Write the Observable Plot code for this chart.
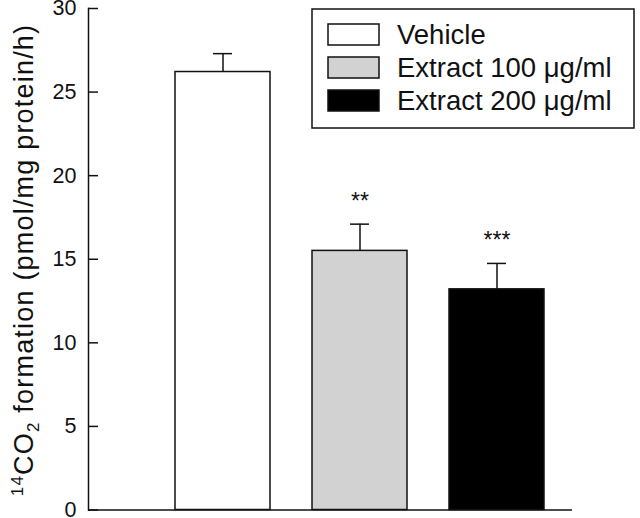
<!DOCTYPE html>
<html><head><meta charset="utf-8">
<script src="https://cdn.jsdelivr.net/npm/d3@7"></script>
<script src="https://cdn.jsdelivr.net/npm/@observablehq/plot@0.6"></script>
<style>body{margin:0;background:#fff}#chart{position:relative;width:640px;height:518px}</style>
</head><body><div id="chart"></div>
<script>
const groups = ["Vehicle", "Extract 100 \u03bcg/ml", "Extract 200 \u03bcg/ml"];
const means = [26.2, 15.5, 13.2];
const errors = [1.1, 1.6, 1.55];
const stars = ["", "**", "***"];
const fills = ["#ffffff", "#d2d2d2", "#000000"];
const yTicks = [0, 5, 10, 15, 20, 25, 30];

const data = groups.map((g, i) => ({group: g, mean: means[i], err: errors[i], hi: means[i] + errors[i], star: stars[i], fill: fills[i]}));
const FONT = "Liberation Sans, Arial, Helvetica, sans-serif";

const plot = Plot.plot({
  width: 640, height: 518,
  marginLeft: 88, marginRight: 68, marginTop: 8, marginBottom: 8.5,
  style: {fontFamily: FONT, fontSize: "21px", color: "#111", background: "#fff"},
  x: {domain: groups, range: [154, 565], paddingInner: 0.31, paddingOuter: 0.155, axis: null},
  y: {domain: [0, 30], ticks: yTicks, label: null, axis: null},
  marks: [
    Plot.barY(data, {x: "group", y: "mean", fill: "fill", stroke: "#111", strokeWidth: 1.5}),
    Plot.ruleX(data, {x: "group", y1: "mean", y2: "hi", stroke: "#111", strokeWidth: 1.5}),
    Plot.tickY(data, {x: "group", y: "hi", stroke: "#111", strokeWidth: 1.5, insetLeft: 38, insetRight: 38}),
    Plot.text(data, {x: "group", y: "hi", text: "star", dy: -23, fontSize: 23, fill: "#111"}),
    Plot.ruleY([0], {stroke: "#111", strokeWidth: 1.5}),
    Plot.frame({anchor: "left", stroke: "#111", strokeWidth: 1.5}),
    Plot.axisY(yTicks, {tickSize: 10, dx: 10, tickFormat: () => "", stroke: "#111", strokeWidth: 1.5, label: null}),
    Plot.text(yTicks, {y: d => d, text: d => String(d), frameAnchor: "left", dx: -12, dy: 0, textAnchor: "end", fontSize: 21.5, fill: "#111"})
  ]
});
document.getElementById("chart").appendChild(plot);

const svg = d3.select(plot);
// y-axis label with superscript/subscript
const lab = svg.append("text")
  .attr("transform", "translate(33,260) rotate(-90)")
  .attr("text-anchor", "middle")
  .style("font-family", FONT).style("font-size", "27px").style("letter-spacing", "1.2px").attr("fill", "#111");
lab.append("tspan").style("font-size", "17px").attr("dy", "-10").text("14");
lab.append("tspan").attr("dy", "10").text("CO");
lab.append("tspan").style("font-size", "17px").attr("dy", "6").text("2");
lab.append("tspan").attr("dy", "-6").text(" formation (pmol/mg protein/h)");

// legend box
const lg = svg.append("g");
lg.append("rect").attr("x", 312).attr("y", 9).attr("width", 322).attr("height", 119)
  .attr("fill", "#fff").attr("stroke", "#111").attr("stroke-width", 1.5);
groups.forEach((g, i) => {
  const y0 = 24 + i * 33;
  lg.append("rect").attr("x", 328).attr("y", y0).attr("width", 51).attr("height", 21)
    .attr("fill", fills[i]).attr("stroke", "#111").attr("stroke-width", 1.5);
  lg.append("text").attr("x", 397).attr("y", y0 + 20).attr("text-anchor", "start")
    .style("font-family", FONT).style("font-size", "27.5px").attr("fill", "#111").text(g);
});
</script></body></html>
